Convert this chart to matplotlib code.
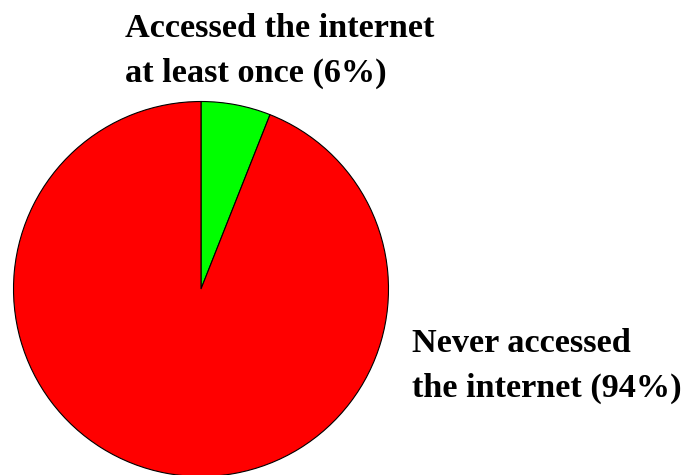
import matplotlib.pyplot as plt

labels = ['Accessed the internet\nat least once (6%)', 'Never accessed\nthe internet (94%)']
shares = [6, 94]
colors = ['#00ff00', '#ff0000']

fig = plt.figure(figsize=(6.84, 4.75), dpi=100)
ax = fig.add_axes([0, 0, 1, 1])

# pie in pixel-like data coords (1 unit = 1 px)
ax.pie(shares, colors=colors, startangle=90, counterclock=False,
       center=(201, 475 - 289), radius=187.5,
       wedgeprops=dict(edgecolor='black', linewidth=0.8))
ax.set_xlim(0, 684)
ax.set_ylim(0, 475)
ax.set_aspect('equal')
ax.axis('off')

font = dict(family='Liberation Serif', fontweight='bold', fontsize=24.7,
            linespacing=1.55)
ax.text(125, 475 - 51, labels[0], ha='left', va='center', **font)
ax.text(412, 475 - 366, labels[1], ha='left', va='center', **font)

fig.savefig('out.png', dpi=100)
